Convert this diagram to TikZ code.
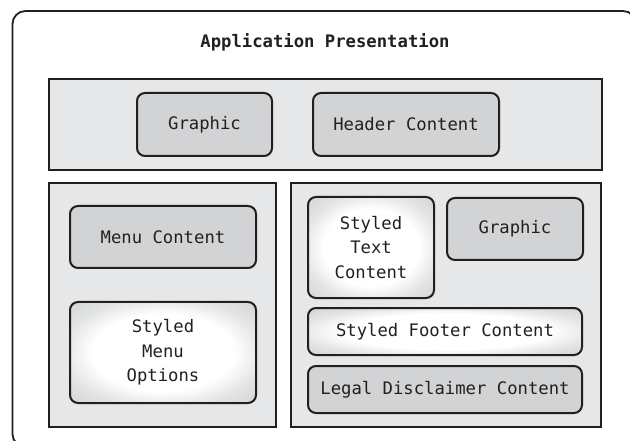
\documentclass[tikz,border=0pt]{standalone}
\usepackage{fontspec}
\newfontfamily\diagmono{DejaVu Sans Mono}
\definecolor{inkline}{HTML}{231F20}
\definecolor{panelfill}{HTML}{E6E7E8}
\definecolor{boxfill}{HTML}{D1D3D4}
% white centre fading to grey towards the edges
\pgfdeclareradialshading{vignette}{\pgfpoint{0bp}{0bp}}{%
  color(0bp)=(white); color(19bp)=(white); color(27bp)=(boxfill!60); color(36bp)=(boxfill); color(50bp)=(boxfill)}
\tikzset{
  txt/.style={font=\diagmono\fontsize{17.3}{24.5}\selectfont, text=inkline, align=center},
  panel/.style={draw=inkline, line width=2bp, fill=panelfill, inner sep=0pt},
  darkbox/.style={txt, draw=inkline, line width=2bp, fill=boxfill, rounded corners=8bp, inner sep=0pt},
  lightbox/.style={txt, draw=inkline, line width=2bp, rounded corners=8bp, shade, shading=vignette, inner sep=0pt},
}
\begin{document}
\begin{tikzpicture}[x=1bp, y=-1bp]
  \clip (0,0) rectangle (630,441);
  \fill[white] (0,0) rectangle (630,441);
  % outer frame, running past the right and bottom edges
  \draw[inkline, line width=1.8bp, rounded corners=13bp] (12.5,11) rectangle (636,447);
  \node[txt, font=\diagmono\bfseries\fontsize{17.3}{24.5}\selectfont] (title) at (325,42) {Application Presentation};

  % header band
  \node[panel, minimum width=553bp, minimum height=91bp] (header) at (325.5,124.5) {};
  \node[darkbox, minimum width=135bp, minimum height=63bp] (hgraphic) at (204.5,124.5) {Graphic};
  \node[darkbox, minimum width=186bp, minimum height=63bp] (hcontent) at (406,124.5) {Header Content};

  % menu panel
  \node[panel, minimum width=227bp, minimum height=244bp] (menu) at (162.5,305) {};
  \node[darkbox, minimum width=186bp, minimum height=62bp] (menucontent) at (163,237) {Menu Content};
  \node[lightbox, minimum width=186bp, minimum height=101bp] (menuoptions) at (163,352.5) {Styled\\Menu\\Options};

  % content panel
  \node[panel, minimum width=310bp, minimum height=244bp] (content) at (446,305) {};
  \node[lightbox, minimum width=126bp, minimum height=101bp] (styledtext) at (371,247.5) {Styled\\Text\\Content};
  \node[darkbox, minimum width=136bp, minimum height=62bp] (cgraphic) at (515,229) {Graphic};
  \node[lightbox, minimum width=274bp, minimum height=47bp] (footer) at (445,331.5) {Styled Footer Content};
  \node[darkbox, minimum width=274bp, minimum height=47bp] (legal) at (445,389.5) {Legal Disclaimer Content};
\end{tikzpicture}
\end{document}
